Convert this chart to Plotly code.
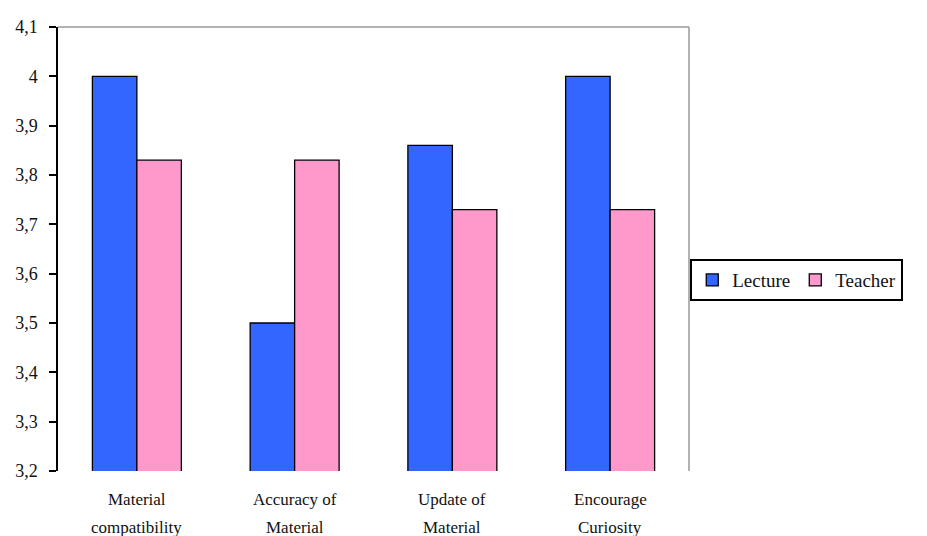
import plotly.graph_objects as go

categories = ["Material<br>compatibility", "Accuracy of<br>Material", "Update of<br>Material", "Encourage<br>Curiosity"]
lecture = [4.0, 3.5, 3.86, 4.0]
teacher = [3.83, 3.83, 3.73, 3.73]
y_ticks = [3.2, 3.3, 3.4, 3.5, 3.6, 3.7, 3.8, 3.9, 4.0, 4.1]
y_tick_labels = ["3,2", "3,3", "3,4", "3,5", "3,6", "3,7", "3,8", "3,9", "4", "4,1"]

serif = "Liberation Serif, Times New Roman, serif"
fig = go.Figure()
fig.add_trace(go.Bar(x=categories, y=lecture, name="Lecture",
                     marker=dict(color="#3366FF", line=dict(color="#000000", width=1.3))))
fig.add_trace(go.Bar(x=categories, y=teacher, name="Teacher",
                     marker=dict(color="#FF99CC", line=dict(color="#000000", width=1.3))))

# two-line category labels under each group
for c in categories:
    first, second = c.split("<br>")
    fig.add_annotation(x=c, xref="x", y=-0.065, yref="paper", text=first, showarrow=False,
                       yanchor="middle", font=dict(family=serif, size=17, color="#111111"))
    fig.add_annotation(x=c, xref="x", y=-0.128, yref="paper", text=second, showarrow=False,
                       yanchor="middle", font=dict(family=serif, size=17, color="#111111"))

# grey frame along the top and right of the plot area
fig.add_shape(type="line", xref="paper", yref="paper", x0=0, x1=1, y0=1, y1=1,
              line=dict(color="#999999", width=1.5))
fig.add_shape(type="line", xref="paper", yref="paper", x0=1, x1=1, y0=0, y1=1,
              line=dict(color="#999999", width=1.5))

fig.update_layout(
    width=927, height=536,
    margin=dict(l=58, r=238, t=27, b=65),
    paper_bgcolor="white", plot_bgcolor="white",
    barmode="group", bargap=0.436, bargroupgap=0,
    font=dict(family=serif, color="#111111"),
    legend=dict(orientation="h", x=1.002, xanchor="left", y=0.43, yanchor="middle",
                bordercolor="#000000", borderwidth=2, bgcolor="white",
                font=dict(family=serif, size=19, color="#111111"),
                itemwidth=30, traceorder="normal"),
    xaxis=dict(showticklabels=False, showline=False, showgrid=False, ticks=""),
    yaxis=dict(range=[3.2, 4.1], tickvals=y_ticks, ticktext=y_tick_labels,
               showline=True, linecolor="#000000", linewidth=1.5,
               ticks="outside", ticklen=7, tickcolor="#000000", tickwidth=1.5,
               ticklabelstandoff=8,
               showgrid=False, zeroline=False,
               tickfont=dict(family=serif, size=18, color="#111111")),
)

fig.write_html("out.html")
